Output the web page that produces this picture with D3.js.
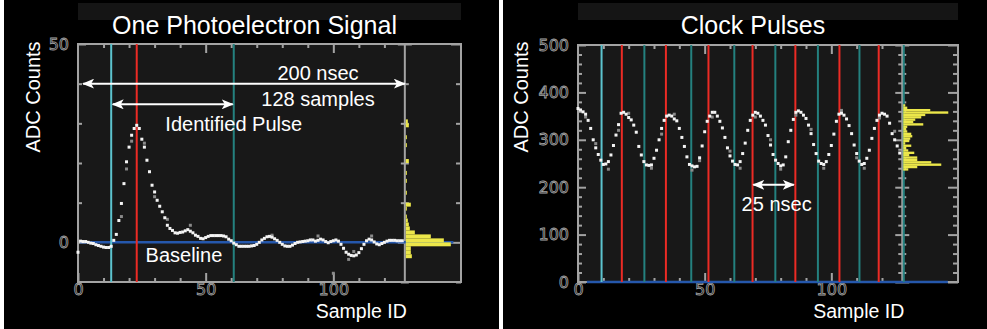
<!DOCTYPE html>
<html>
<head>
<meta charset="utf-8">
<script src="https://d3js.org/d3.v7.min.js"></script>
<style>
  body { margin: 0; background: #fff; }
  svg { display: block; }
  .title, .note, .axis-title { font-family: "Liberation Sans", Arial, sans-serif; fill: #fff; }
</style>
</head>
<body>
<script>

// ---- data: one photoelectron (left) ----
var leftSignal = [
  -2.5, 0.3, 0.2, 0.2, 0.0, -0.2, -0.3, -0.6, -0.8, -1.0,
  -1.2, -1.3, -1.3, -1.0, 0.5, 2.0, 5.5, 9.8, 14.8, 20.3,
  24.0, 27.0, 28.7, 29.5, 28.7, 26.0, 24.0, 20.7, 17.8, 14.4,
  12.7, 10.6, 9.1, 7.7, 6.2, 4.3, 3.5, 3.0, 2.4, 2.3,
  2.5, 2.6, 2.9, 3.2, 2.8, 2.4, 1.8, 1.5, 1.0, 0.9,
  1.2, 1.5, 1.7, 1.7, 1.7, 1.7, 1.7, 1.6, 1.4, 0.8,
  0.4, -0.2, -0.6, -1.0, -1.0, -1.0, -1.0, -1.0, -0.9, -0.8,
  -0.5, 0.0, 0.6, 1.0, 1.4, 1.5, 1.3, 0.9, 0.5, 0.0,
  -0.5, -0.9, -1.0, -1.0, -0.7, -0.3, 0.0, 0.1, 0.2, 0.3,
  0.4, 0.6, 0.6, 0.3, 0.5, 0.8, 0.6, 0.2, -0.1, 0.2,
  0.4, 0.6, 0.3, -0.5, -1.5, -2.5, -3.0, -3.3, -3.4, -3.2,
  -2.6, -1.6, -0.5, 0.4, 0.8, 0.6, 0.1, -0.4, -0.6, -0.3,
  0.0, 0.3, 0.5, 0.5, 0.5, 0.4, 0.4, 0.4
];
// stray grey samples [sample, counts]
var leftGrey = [[17, 6.5], [19, 18.5], [21, 25.5], [26, 25], [30, 11.5], [35, 5.8],
  [44, 4.3], [76, 1.8], [94, 1.6], [100, -7.8], [106, -4.3], [108, -2.3], [115, 1.6]];
var leftCyan = [13];
var leftRed = [23];
var leftTeal = [61];
// baseline histogram: bin lower edge (counts) and bar length
var leftHistBins = [-4, -3, -2, -1, 0, 1, 2, 3, 4, 5, 6, 8, 9, 12, 15, 17, 20, 24, 26, 29, 30];
var leftHistCounts = [6, 5, 5, 45, 38, 25, 9, 4, 3, 2, 1, 1, 5, 1, 1, 1, 3, 1, 1, 3, 2];

// ---- data: clock pulses (right) ----
var rightSignal = [
  366, 363, 359, 354, 341, 324, 300, 283, 269, 257,
  248, 249, 254, 268, 288, 310, 332, 356, 358, 354,
  347, 342, 331, 316, 286, 268, 254, 247, 246, 247,
  261, 278, 300, 324, 341, 350, 352, 350, 344, 340,
  324, 305, 286, 264, 248, 245, 243, 244, 262, 287,
  317, 339, 350, 358, 358, 350, 339, 325, 305, 283,
  266, 255, 248, 247, 254, 271, 293, 320, 341, 352,
  358, 356, 350, 341, 331, 309, 289, 269, 257, 250,
  245, 247, 264, 296, 320, 343, 358, 361, 358, 352,
  345, 331, 313, 290, 271, 255, 250, 248, 254, 269,
  288, 312, 339, 354, 356, 352, 344, 330, 313, 289,
  271, 255, 248, 250, 261, 278, 303, 324, 341, 352,
  356, 354, 350, 335, 313, 300, 287, 272
];
var rightGrey = [[3, 348], [7, 292], [12, 238], [16, 320], [20, 356], [29, 240], [33, 312],
  [38, 354], [45, 236], [48, 256], [53, 348], [60, 276], [64, 240], [70, 348], [76, 300],
  [80, 238], [86, 352], [92, 322], [97, 240], [104, 362], [110, 262], [113, 240], [119, 346], [125, 318]];
var rightCyan = [9.3];
var rightRed = [17.3, 34.7, 51.5, 68.9, 85.8, 103.2, 118.7];
var rightTeal = [26.2, 44.7, 61.7, 77.9, 94.7, 111.1, 128.6];
var rightHistBins = [235, 240, 245, 250, 255, 260, 265, 270, 275, 280, 285, 290, 295, 300,
  305, 310, 315, 320, 325, 330, 335, 340, 345, 350, 355, 360, 365, 370];
var rightHistCounts = [5, 14, 38, 28, 14, 14, 6, 11, 5, 3, 8, 2, 6, 7,
  9, 8, 4, 3, 4, 20, 10, 12, 18, 22, 45, 27, 4, 2];

var W = 987, H = 329;
var svg = d3.select("body").append("svg").attr("width", W).attr("height", H);

// panel backgrounds (white frame around two black panels)
svg.append("rect").attr("width", W).attr("height", H).attr("fill", "#fff");
svg.append("rect").attr("x", 4).attr("y", 0).attr("width", 495).attr("height", H).attr("fill", "#000");
svg.append("rect").attr("x", 503).attr("y", 0).attr("width", W - 503).attr("height", H).attr("fill", "#000");

var defs = svg.append("defs");
defs.append("marker").attr("id", "head").attr("viewBox", "0 0 12 10")
    .attr("refX", 11).attr("refY", 5).attr("markerWidth", 12).attr("markerHeight", 10)
    .attr("markerUnits", "userSpaceOnUse").attr("orient", "auto-start-reverse")
  .append("path").attr("d", "M0,0 L12,5 L0,10 L3,5 Z").attr("fill", "#fff");

function drawPanel(p) {
  var g = svg.append("g");
  var x = d3.scaleLinear().domain([0, 150]).range([p.left, p.right]);
  var y = d3.scaleLinear().domain(p.yDomain).range([p.bottom, p.top]);
  var hx = d3.scaleLinear().domain([0, 50]).range([0, 50]);

  // title strip + title
  g.append("rect").attr("x", p.left).attr("y", 3).attr("width", p.right - p.left).attr("height", 17)
      .attr("fill", "#151515");
  g.append("text").attr("class", "title").attr("x", (p.left + p.right) / 2 - 15).attr("y", 34)
      .attr("text-anchor", "middle").style("font-size", "25px").text(p.title);

  // plot area
  g.append("rect").attr("x", p.left).attr("y", p.top).attr("width", p.right - p.left)
      .attr("height", p.bottom - p.top).attr("fill", "#181818");

  // frame
  var frame = g.append("g").attr("stroke", "#a3a3a3").attr("stroke-width", 2).attr("fill", "none");
  frame.append("rect").attr("x", p.left).attr("y", p.top).attr("width", p.right - p.left)
      .attr("height", p.bottom - p.top);
  frame.append("line").attr("x1", x(128)).attr("x2", x(128)).attr("y1", p.top).attr("y2", p.bottom);

  // ticks via d3 axes
  function styleAxis(a) {
    a.select(".domain").remove();
    a.attr("color", "#a3a3a3");
    a.selectAll(".tick line").attr("stroke-width", 2);
    a.selectAll("text").attr("font-family", "DejaVu Sans, sans-serif").attr("font-size", 16)
        .attr("fill", "none").attr("stroke", "#a6a6a6").attr("stroke-width", 0.8);
  }
  var fmt = d3.format("d");
  g.append("g").attr("transform", "translate(" + p.left + ",0)")
      .call(d3.axisLeft(y).tickValues(p.yMinor).tickSize(-4).tickFormat("")).call(styleAxis);
  g.append("g").attr("transform", "translate(" + p.left + ",0)")
      .call(d3.axisLeft(y).tickValues(p.yMajor).tickSize(-8).tickPadding(9)
        .tickFormat(function(d) { return p.yLabels.indexOf(d) >= 0 ? fmt(d) : ""; })).call(styleAxis);
  g.append("g").attr("transform", "translate(" + (x(128) - 4) + ",0)")
      .call(d3.axisLeft(y).tickValues(p.yMinor).tickSize(-8).tickFormat("")).call(styleAxis);
  g.append("g").attr("transform", "translate(" + (x(128) - 7) + ",0)")
      .call(d3.axisLeft(y).tickValues(p.yMajor).tickSize(-14).tickFormat("")).call(styleAxis);
  g.append("g").attr("transform", "translate(" + p.right + ",0)")
      .call(d3.axisRight(y).tickValues(p.yMinor).tickSize(-5).tickFormat("")).call(styleAxis);
  g.append("g").attr("transform", "translate(" + p.right + ",0)")
      .call(d3.axisRight(y).tickValues(p.yMajor).tickSize(-10).tickFormat("")).call(styleAxis);

  var xMinor = [10, 20, 30, 40, 60, 70, 80, 90, 110, 120];
  var xMajor = [0, 50, 100];
  g.append("g").attr("transform", "translate(0," + p.bottom + ")")
      .call(d3.axisBottom(x).tickValues(xMinor).tickSize(-4).tickFormat("")).call(styleAxis);
  g.append("g").attr("transform", "translate(0," + p.bottom + ")")
      .call(d3.axisBottom(x).tickValues(xMajor).tickSize(-9).tickPadding(2).tickFormat(fmt)).call(styleAxis);
  g.append("g").attr("transform", "translate(0," + p.top + ")")
      .call(d3.axisTop(x).tickValues(xMinor).tickSize(-4).tickFormat("")).call(styleAxis);
  g.append("g").attr("transform", "translate(0," + p.top + ")")
      .call(d3.axisTop(x).tickValues([50, 100]).tickSize(-9).tickFormat("")).call(styleAxis);

  // baseline
  g.append("line").attr("x1", x(p.baseRange[0])).attr("x2", x(p.baseRange[1]))
      .attr("y1", y(0)).attr("y2", y(0)).attr("stroke", "#2557ab").attr("stroke-width", 2.5);

  // marker lines
  function markers(list, color) {
    g.selectAll(null).data(list).enter().append("line")
        .attr("x1", function(d) { return x(d); }).attr("x2", function(d) { return x(d); })
        .attr("y1", p.top).attr("y2", p.bottom).attr("stroke", color).attr("stroke-width", 2);
  }
  markers(p.teal, "#24817f");
  markers(p.red, "#ec2b25");
  markers(p.cyan, "#5cc4cf");

  // histogram
  g.selectAll(null).data(p.histBins).enter().append("rect")
      .attr("x", x(128) + 1)
      .attr("y", function(d) { return y(d + p.binWidth); })
      .attr("width", function(d, i) { return hx(p.histCounts[i]); })
      .attr("height", function(d) { return y(d) - y(d + p.binWidth); })
      .attr("fill", "#ece74a");

  // samples
  g.selectAll(null).data(p.grey).enter().append("rect")
      .attr("x", function(d) { return x(d[0]) - 1.5; }).attr("y", function(d) { return y(d[1]) - 1.5; })
      .attr("width", 3).attr("height", 3).attr("fill", "#8a8a8a");
  g.selectAll(null).data(p.signal).enter().append("rect")
      .attr("x", function(d, i) { return x(i) - 1.5; }).attr("y", function(d) { return y(d) - 1.5; })
      .attr("width", 3).attr("height", 3).attr("fill", "#f4f4f4");

  // axis titles
  g.append("text").attr("class", "axis-title").attr("transform", "translate(" + p.yTitleX + ",97) rotate(-90)")
      .attr("text-anchor", "middle").style("font-size", "20px").text("ADC Counts");
  g.append("text").attr("class", "axis-title").attr("x", x(128) + 2).attr("y", 318)
      .attr("text-anchor", "end").style("font-size", "19.5px").text("Sample ID");

  // annotations
  p.arrows.forEach(function(a) {
    g.append("line").attr("x1", x(a[0])).attr("x2", x(a[1])).attr("y1", y(a[2])).attr("y2", y(a[2]))
        .attr("stroke", "#fff").attr("stroke-width", 2)
        .attr("marker-start", "url(#head)").attr("marker-end", "url(#head)");
  });
  p.notes.forEach(function(n) {
    g.append("text").attr("class", "note").attr("x", x(n[1])).attr("y", y(n[2]))
        .attr("text-anchor", "middle").style("font-size", "20px").text(n[0]);
  });
}

drawPanel({
  title: "One Photoelectron Signal",
  left: 78, right: 461, top: 44, bottom: 282,
  yDomain: [-10, 50],
  yMinor: [-10, 10, 20, 30, 40], yMajor: [0, 50], yLabels: [0, 50],
  yTitleX: 40,
  baseRange: [0.8, 147],
  signal: leftSignal, grey: leftGrey,
  cyan: leftCyan, red: leftRed, teal: leftTeal,
  histBins: leftHistBins, histCounts: leftHistCounts, binWidth: 1,
  arrows: [[2, 128, 40], [13.6, 60.6, 34.8]],
  notes: [["200 nsec", 94, 41], ["128 samples", 94, 34.4], ["Identified Pulse", 61, 28], ["Baseline", 41.5, -5]]
});

drawPanel({
  title: "Clock Pulses",
  left: 578, right: 958, top: 45, bottom: 282,
  yDomain: [0, 500],
  yMinor: [20, 40, 60, 80, 120, 140, 160, 180, 220, 240, 260, 280, 320, 340, 360, 380, 420, 440, 460, 480],
  yMajor: [0, 100, 200, 300, 400, 500], yLabels: [0, 100, 200, 300, 400, 500],
  yTitleX: 528,
  baseRange: [3.5, 146],
  signal: rightSignal, grey: rightGrey,
  cyan: rightCyan, red: rightRed, teal: rightTeal,
  histBins: rightHistBins, histCounts: rightHistCounts, binWidth: 5,
  arrows: [[69.2, 85.2, 205]],
  notes: [["25 nsec", 78.4, 150]]
});

</script>
</body>
</html>
